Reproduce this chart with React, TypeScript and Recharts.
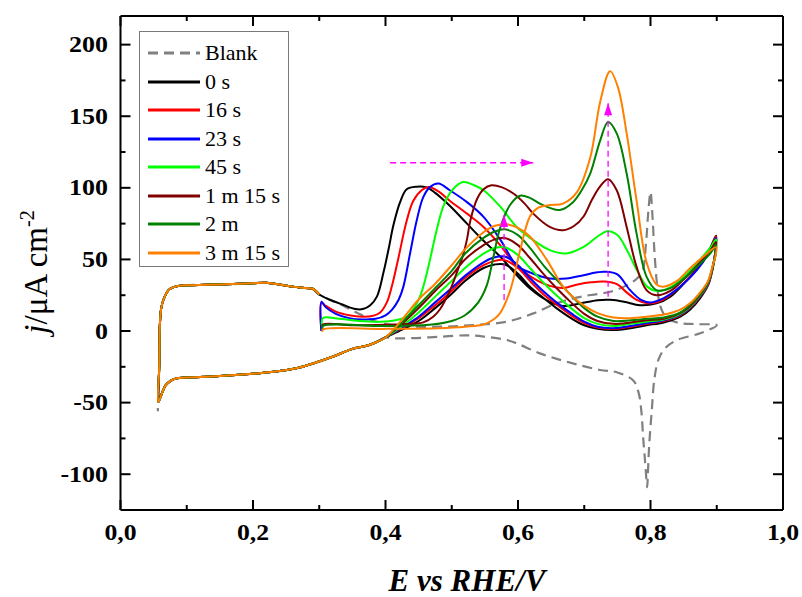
import React from "react";
import { LineChart, Line, XAxis, YAxis, Legend } from "recharts";

type Pt = [number, number];

// common parts of every sweep: hydrogen region going up, and the cathodic tail going down
const HEAD: Pt[] = [
  [0.0585, -25], [0.0595, 5], [0.0615, 16], [0.065, 22], [0.07, 27], [0.075, 29.5],
  [0.085, 31.3], [0.1, 32], [0.13, 32.3], [0.17, 32.8], [0.2, 33.4], [0.22, 33.7],
  [0.24, 32.5], [0.26, 31], [0.28, 30], [0.29, 29.5], [0.3, 25.5],
];
const TAIL: Pt[] = [
  [0.4, -4.5], [0.385, -8], [0.37, -10.5], [0.35, -12.5], [0.32, -18], [0.295, -22],
  [0.27, -25.5], [0.24, -28], [0.21, -29.5], [0.15, -31.5], [0.1, -32.5], [0.085, -33],
  [0.075, -35], [0.068, -38], [0.063, -43], [0.057, -49.5],
];

const BLANK_FWD: Pt[] = [
  [0.315, 22], [0.335, 18], [0.36, 12], [0.39, 6], [0.43, 3.5], [0.482, 3], [0.533, 4.2],
  [0.583, 6.5], [0.623, 12.3], [0.658, 19.3], [0.69, 23.5], [0.719, 25.8], [0.739, 27.4],
  [0.76, 31], [0.778, 36], [0.788, 42], [0.793, 60], [0.797, 85], [0.8, 97], [0.803, 80],
  [0.806, 55], [0.81, 32], [0.815, 17], [0.825, 9], [0.845, 5.5], [0.87, 4.8], [0.9, 4],
];
const BLANK_REV: Pt[] = [
  [0.875, -1.6], [0.84, -6.3], [0.822, -12], [0.812, -20], [0.806, -33], [0.802, -55],
  [0.798, -80], [0.796, -100], [0.795, -109], [0.792, -92], [0.789, -75], [0.786, -55],
  [0.782, -43], [0.774, -34.5], [0.749, -28.8], [0.724, -27.2], [0.673, -21.4],
  [0.633, -15.6], [0.6, -9], [0.583, -6.3], [0.55, -4], [0.523, -3], [0.482, -4],
  [0.44, -5], [0.41, -5],
];

const BLACK_FWD: Pt[] = [
  [0.315, 22], [0.335, 18.5], [0.355, 15.3], [0.367, 15.5], [0.377, 18], [0.387, 24],
  [0.397, 41], [0.405, 58], [0.412, 74], [0.422, 90], [0.432, 99], [0.447, 100.8],
  [0.462, 100.3], [0.475, 96.5], [0.497, 87.5], [0.523, 75], [0.548, 63], [0.573, 52],
  [0.6, 38], [0.62, 29], [0.643, 21.6], [0.668, 17.5], [0.694, 19.3], [0.72, 21.5],
  [0.739, 21.8], [0.76, 20.5], [0.784, 18], [0.809, 19.3], [0.83, 24], [0.85, 33],
  [0.875, 47], [0.89, 58], [0.899, 66.5],
];
const BLACK_REV: Pt[] = [
  [0.898, 56], [0.894, 44], [0.887, 32], [0.875, 23], [0.86, 15], [0.845, 10], [0.82, 6],
  [0.794, 4], [0.77, 2], [0.744, 0.7], [0.72, 1.5], [0.7, 4], [0.68, 9], [0.658, 16],
  [0.64, 22.5], [0.618, 31], [0.6, 40], [0.58, 46.5], [0.565, 46.5], [0.548, 44],
  [0.52, 35], [0.5, 26], [0.475, 16], [0.45, 7], [0.425, 1],
];

const RED_FWD: Pt[] = [
  [0.303, 2], [0.3034, 19.5], [0.31, 17.5], [0.325, 13.5], [0.345, 11], [0.365, 10],
  [0.38, 10.5], [0.392, 13], [0.402, 20], [0.41, 32], [0.419, 50], [0.432, 77], [0.442, 91],
  [0.455, 98.5], [0.465, 100.6], [0.48, 97.5], [0.497, 91], [0.523, 82], [0.548, 72.7],
  [0.573, 60], [0.593, 48], [0.61, 41], [0.63, 35], [0.648, 31.5], [0.668, 30],
  [0.69, 32.5], [0.71, 34], [0.731, 34.5], [0.75, 32.5], [0.764, 27], [0.78, 21.5],
  [0.795, 19.3], [0.81, 20], [0.825, 23.5], [0.845, 31], [0.87, 43], [0.89, 57], [0.899, 66],
];
const RED_REV: Pt[] = [
  [0.898, 56], [0.894, 44], [0.887, 32.5], [0.875, 24], [0.86, 16], [0.845, 11], [0.82, 7],
  [0.794, 5], [0.77, 3], [0.744, 1.5], [0.72, 2.5], [0.7, 5.5], [0.68, 11], [0.658, 18.5],
  [0.64, 25], [0.618, 35], [0.6, 44], [0.58, 49.5], [0.565, 49], [0.548, 46], [0.52, 37],
  [0.5, 28], [0.475, 18], [0.45, 9], [0.425, 2],
];

const BLUE_FWD: Pt[] = [
  [0.303, 0], [0.3034, 20.5], [0.31, 16.5], [0.325, 12], [0.345, 9], [0.365, 8],
  [0.385, 8.5], [0.4, 11], [0.41, 15], [0.42, 22], [0.427, 31], [0.437, 54], [0.447, 77],
  [0.457, 93.5], [0.467, 100.5], [0.48, 103], [0.497, 98.3], [0.523, 90], [0.548, 79.7],
  [0.573, 64], [0.598, 46], [0.623, 40], [0.648, 36.7], [0.673, 36.7], [0.699, 39],
  [0.72, 41], [0.731, 41.4], [0.75, 39.5], [0.769, 28.6], [0.785, 22], [0.8, 20],
  [0.82, 23], [0.845, 31], [0.87, 42.5], [0.89, 56], [0.899, 65],
];
const BLUE_REV: Pt[] = [
  [0.898, 56], [0.894, 45], [0.887, 33], [0.875, 24.5], [0.86, 16.5], [0.845, 11.5],
  [0.82, 7.5], [0.794, 5.5], [0.77, 3.5], [0.744, 2], [0.72, 3], [0.7, 6.5], [0.68, 12.5],
  [0.658, 20], [0.64, 27], [0.618, 37], [0.6, 46], [0.58, 52], [0.565, 51.5], [0.548, 48],
  [0.52, 38.5], [0.5, 30], [0.475, 20], [0.45, 10], [0.425, 2.5],
];

const GREEN_FWD: Pt[] = [
  [0.305, 1], [0.3054, 9], [0.33, 8.5], [0.36, 7], [0.392, 6.5], [0.415, 7.5], [0.432, 10],
  [0.443, 16], [0.452, 24], [0.46, 36], [0.467, 49.5], [0.477, 70], [0.487, 86.7],
  [0.5, 98], [0.517, 104], [0.533, 102], [0.548, 98.3], [0.573, 87], [0.598, 72.7],
  [0.623, 63.5], [0.648, 56.5], [0.673, 54.2], [0.699, 58.8], [0.72, 66], [0.735, 69.7],
  [0.75, 67], [0.765, 56], [0.78, 42], [0.795, 31], [0.81, 28], [0.83, 30.5], [0.85, 37.5],
  [0.875, 50], [0.89, 58], [0.899, 64],
];
const GREEN_REV: Pt[] = [
  [0.898, 55], [0.894, 45], [0.887, 33.5], [0.875, 25], [0.86, 17], [0.845, 12], [0.82, 8],
  [0.794, 6.5], [0.77, 5], [0.744, 3.5], [0.72, 5], [0.7, 9], [0.68, 16], [0.658, 25],
  [0.64, 33], [0.618, 44], [0.6, 53], [0.58, 58.5], [0.565, 58], [0.548, 54], [0.52, 44],
  [0.5, 35], [0.475, 24], [0.45, 13], [0.425, 3.5],
];

const DRED_FWD: Pt[] = [
  [0.305, 1], [0.3054, 4.5], [0.35, 4], [0.4, 4.3], [0.44, 5], [0.457, 6], [0.472, 10],
  [0.482, 15], [0.497, 28], [0.507, 40], [0.517, 53], [0.523, 64], [0.528, 77],
  [0.538, 92], [0.548, 99], [0.56, 101.8], [0.575, 100.5], [0.593, 96], [0.61, 89],
  [0.623, 82], [0.648, 72.7], [0.668, 70.4], [0.685, 73.5], [0.699, 80], [0.712, 92],
  [0.724, 101], [0.736, 106], [0.749, 98.3], [0.764, 72.7], [0.779, 44.8], [0.794, 28.6],
  [0.809, 25], [0.83, 28], [0.85, 36], [0.875, 48], [0.89, 56], [0.899, 62],
];
const DRED_REV: Pt[] = [
  [0.898, 54], [0.894, 45], [0.887, 34], [0.875, 25.5], [0.86, 17.5], [0.845, 12.5],
  [0.82, 8.5], [0.794, 7.5], [0.77, 6], [0.744, 5], [0.72, 7], [0.7, 12], [0.68, 20],
  [0.658, 30], [0.64, 39], [0.618, 51], [0.6, 60], [0.58, 65], [0.565, 64], [0.548, 60],
  [0.52, 50], [0.5, 39], [0.475, 28], [0.45, 16], [0.425, 5],
];

const DGREEN_FWD: Pt[] = [
  [0.305, 1], [0.3054, 3.5], [0.4, 3.5], [0.47, 4.5], [0.5, 7], [0.52, 11], [0.54, 20],
  [0.553, 32], [0.563, 52], [0.573, 72], [0.588, 88], [0.603, 94.5], [0.618, 93],
  [0.633, 89], [0.648, 86], [0.663, 84.5], [0.683, 90], [0.697, 99], [0.709, 110],
  [0.724, 133], [0.736, 146], [0.749, 138], [0.764, 110], [0.779, 68], [0.794, 38],
  [0.809, 28.6], [0.83, 30], [0.85, 36.5], [0.875, 47], [0.89, 54], [0.899, 60],
];
const DGREEN_REV: Pt[] = [
  [0.898, 53], [0.894, 45], [0.887, 34.5], [0.875, 26], [0.86, 18.5], [0.845, 13],
  [0.82, 9.5], [0.794, 8.5], [0.77, 7.5], [0.744, 7], [0.72, 10], [0.7, 16], [0.68, 25],
  [0.658, 36], [0.64, 45], [0.618, 58], [0.6, 67], [0.58, 71], [0.565, 69.5], [0.548, 65],
  [0.52, 54], [0.5, 42], [0.475, 30], [0.45, 18], [0.425, 6],
];

const ORANGE_FWD: Pt[] = [
  [0.305, -0.5], [0.3054, 1], [0.4, 1.5], [0.48, 2], [0.52, 3], [0.548, 4.5], [0.563, 8],
  [0.573, 12.5], [0.588, 28], [0.603, 56], [0.618, 80], [0.63, 86], [0.648, 88],
  [0.668, 89], [0.689, 97], [0.709, 121], [0.724, 160], [0.739, 181.5], [0.751, 170],
  [0.764, 138], [0.779, 91], [0.794, 48], [0.809, 32.5], [0.82, 31], [0.84, 35],
  [0.86, 44], [0.88, 52], [0.899, 58.5],
];
const ORANGE_REV: Pt[] = [
  [0.898, 52], [0.894, 46], [0.887, 35], [0.875, 27], [0.86, 19.5], [0.845, 15],
  [0.82, 11.5], [0.794, 10], [0.77, 9], [0.744, 9.5], [0.72, 12.5], [0.7, 17.5], [0.68, 25],
  [0.668, 31], [0.643, 50], [0.618, 66], [0.6, 72], [0.583, 74.5], [0.565, 73.5],
  [0.548, 69], [0.52, 57], [0.5, 46], [0.475, 33], [0.45, 22], [0.425, 8],
];

// magenta guide arrows
const ARROW_SHIFT: Pt[] = [[0.407, 117.5], [0.623, 117.5]];
const ARROW_UP_1: Pt[] = [[0.579, 21.6], [0.579, 81]];
const ARROW_UP_2: Pt[] = [[0.736, 24], [0.736, 159]];

const X_TICKS = [0, 0.1, 0.2, 0.3, 0.4, 0.5, 0.6, 0.7, 0.8, 0.9, 1.0];
const Y_TICKS = [-100, -75, -50, -25, 0, 25, 50, 75, 100, 125, 150, 175, 200];

const rows = (pts: Pt[]) => pts.map(([E, j]) => ({ E, j }));

const SERIES = [
  { name: "Blank", color: "#808080", dash: "10 6", data: rows([...HEAD, ...BLANK_FWD, ...BLANK_REV, ...TAIL, [0.0565, -56]]) },
  { name: "0 s", color: "#000000", data: rows([[0.057, -49.5], ...HEAD, ...BLACK_FWD, ...BLACK_REV, ...TAIL]) },
  { name: "16 s", color: "#ff0000", data: rows([...RED_FWD, ...RED_REV, ...TAIL, ...HEAD]) },
  { name: "23 s", color: "#0000ff", data: rows([...BLUE_FWD, ...BLUE_REV, ...TAIL, ...HEAD]) },
  { name: "45 s", color: "#00ff00", data: rows([...GREEN_FWD, ...GREEN_REV, ...TAIL, ...HEAD]) },
  { name: "1 m 15 s", color: "#800000", data: rows([...DRED_FWD, ...DRED_REV, ...TAIL, ...HEAD]) },
  { name: "2 m", color: "#008000", data: rows([...DGREEN_FWD, ...DGREEN_REV, ...TAIL, ...HEAD]) },
  { name: "3 m 15 s", color: "#ff8000", data: rows([...ORANGE_FWD, ...ORANGE_REV, ...TAIL, ...HEAD]) },
];

const FONT = '"Liberation Serif", "Times New Roman", serif';

// centripetal catmull-rom, works on closed CV loops where x is not monotonic
const smoothLoop = (context: any) => {
  let pts: number[][] = [];
  return {
    areaStart() {},
    areaEnd() {},
    lineStart() {
      pts = [];
    },
    point(x: number, y: number) {
      pts.push([+x, +y]);
    },
    lineEnd() {
      if (!pts.length) return;
      context.moveTo(pts[0][0], pts[0][1]);
      for (let i = 0; i < pts.length - 1; i++) {
        const p0 = pts[Math.max(i - 1, 0)];
        const p1 = pts[i];
        const p2 = pts[i + 1];
        const p3 = pts[Math.min(i + 2, pts.length - 1)];
        const d01 = Math.hypot(p1[0] - p0[0], p1[1] - p0[1]);
        const d12 = Math.hypot(p2[0] - p1[0], p2[1] - p1[1]);
        const d23 = Math.hypot(p3[0] - p2[0], p3[1] - p2[1]);
        const a01 = Math.sqrt(d01);
        const a12 = Math.sqrt(d12);
        const a23 = Math.sqrt(d23);
        let c1 = p1;
        let c2 = p2;
        if (a01 > 1e-6) {
          const a = 2 * d01 + 3 * a01 * a12 + d12;
          const n = 3 * a01 * (a01 + a12);
          c1 = [(p1[0] * a - p0[0] * d12 + p2[0] * d01) / n, (p1[1] * a - p0[1] * d12 + p2[1] * d01) / n];
        }
        if (a23 > 1e-6) {
          const b = 2 * d23 + 3 * a23 * a12 + d12;
          const m = 3 * a23 * (a23 + a12);
          c2 = [(p2[0] * b + p1[0] * d23 - p3[0] * d12) / m, (p2[1] * b + p1[1] * d23 - p3[1] * d12) / m];
        }
        context.bezierCurveTo(c1[0], c1[1], c2[0], c2[1], p2[0], p2[1]);
      }
    },
  };
};

const isMajorX = (v: number) => Math.round(v * 10) % 2 === 0;
const isMajorY = (v: number) => Math.round(v) % 50 === 0;

const BottomTick = ({ x, y, payload }: any) => {
  const major = isMajorX(payload.value);
  return (
    <g>
      <line x1={x} x2={x} y1={y} y2={y - (major ? 10 : 5)} stroke="#000" strokeWidth={2} />
      {major && (
        <text
          transform={`translate(${x},${y + 30}) scale(1.12,1)`}
          textAnchor="middle"
          fontFamily={FONT}
          fontWeight="bold"
          fontSize={23}
          fill="#000"
        >
          {payload.value.toFixed(1).replace(".", ",")}
        </text>
      )}
    </g>
  );
};

const TopTick = ({ x, y, payload }: any) => {
  const major = isMajorX(payload.value);
  return <line x1={x} x2={x} y1={y} y2={y + (major ? 10 : 5)} stroke="#000" strokeWidth={2} />;
};

const LeftTick = ({ x, y, payload }: any) => {
  const major = isMajorY(payload.value);
  return (
    <g>
      <line x1={x} x2={x + (major ? 10 : 5)} y1={y} y2={y} stroke="#000" strokeWidth={2} />
      {major && (
        <text
          transform={`translate(${x - 12.5},${y + 7.5}) scale(1.13,1)`}
          textAnchor="end"
          fontFamily={FONT}
          fontWeight="bold"
          fontSize={23}
          fill="#000"
        >
          {payload.value}
        </text>
      )}
    </g>
  );
};

const RightTick = ({ x, y, payload }: any) => {
  const major = isMajorY(payload.value);
  return <line x1={x} x2={x - (major ? 10 : 5)} y1={y} y2={y} stroke="#000" strokeWidth={2} />;
};

const XTitle = () => (
  <text x={467} y={591} textAnchor="middle" fontFamily={FONT} fontWeight="bold" fontStyle="italic" fontSize={31} fill="#000">
    E vs RHE/V
  </text>
);

const YTitle = () => (
  <text transform="translate(47,272) rotate(-90)" textAnchor="middle" fontFamily={FONT} fontSize={33} fill="#000">
    <tspan fontStyle="italic">j</tspan>
    <tspan>/μA cm</tspan>
    <tspan dy={-13} fontSize={20}>-2</tspan>
  </text>
);

const arrowHead = (dir: "right" | "up") => (props: any) => {
  const { cx, cy, index } = props;
  if (index !== 1) return <g key={`n${index}`} />;
  const d =
    dir === "right"
      ? `M${cx},${cy} L${cx - 12},${cy - 4} L${cx - 12},${cy + 4} Z`
      : `M${cx},${cy} L${cx - 4},${cy + 12} L${cx + 4},${cy + 12} Z`;
  return <path key={`h${index}`} d={d} fill="#ff00ff" />;
};

const LegendBox = () => (
  <div
    style={{
      boxSizing: "border-box",
      width: 150,
      height: 236,
      border: "1px solid #7a7a7a",
      background: "#fff",
      paddingTop: 7,
      paddingLeft: 8,
      fontFamily: FONT,
      fontSize: 22,
      color: "#000",
    }}
  >
    {SERIES.map((s) => (
      <div key={s.name} style={{ display: "flex", alignItems: "center", height: 28.5 }}>
        <svg width={52} height={10}>
          <line x1={0} x2={52} y1={5} y2={5} stroke={s.color} strokeWidth={3} strokeDasharray={s.dash} />
        </svg>
        <span style={{ marginLeft: 5, lineHeight: 1 }}>{s.name}</span>
      </div>
    ))}
  </div>
);

const axisLine = { stroke: "#000", strokeWidth: 2 };

export default function App() {
  return (
    <div style={{ position: "absolute", left: 0, top: 0, width: 802, height: 597, background: "#fff" }}>
      <LineChart width={802} height={597} margin={{ top: 15, right: 18, bottom: 86, left: 119.5 }}>
        <XAxis
          dataKey="E"
          type="number"
          domain={[0, 1]}
          ticks={X_TICKS}
          interval={0}
          allowDataOverflow
          height={1}
          tickSize={0}
          tickMargin={0}
          tickLine={false}
          tick={BottomTick}
          axisLine={axisLine}
          label={<XTitle />}
        />
        <XAxis
          xAxisId="top"
          orientation="top"
          dataKey="E"
          type="number"
          domain={[0, 1]}
          ticks={X_TICKS}
          interval={0}
          allowDataOverflow
          height={1}
          tickSize={0}
          tickMargin={0}
          tickLine={false}
          tick={TopTick}
          axisLine={axisLine}
        />
        <YAxis
          type="number"
          domain={[-125, 220]}
          ticks={Y_TICKS}
          interval={0}
          allowDataOverflow
          width={1}
          tickSize={0}
          tickMargin={0}
          tickLine={false}
          tick={LeftTick}
          axisLine={axisLine}
          label={<YTitle />}
        />
        <YAxis
          yAxisId="right"
          orientation="right"
          type="number"
          domain={[-125, 220]}
          ticks={Y_TICKS}
          interval={0}
          allowDataOverflow
          width={1}
          tickSize={0}
          tickMargin={0}
          tickLine={false}
          tick={RightTick}
          axisLine={axisLine}
        />
        <Legend
          layout="vertical"
          align="center"
          verticalAlign="middle"
          content={() => <LegendBox />}
          wrapperStyle={{ left: 139, top: 31, width: 150, height: 236 }}
        />
        {SERIES.map((s) => (
          <Line
            key={s.name}
            data={s.data}
            dataKey="j"
            name={s.name}
            type={smoothLoop as any}
            stroke={s.color}
            strokeWidth={s.dash ? 2.2 : 2}
            strokeDasharray={s.dash}
            dot={false}
            activeDot={false}
            isAnimationActive={false}
          />
        ))}
        <Line data={rows(ARROW_SHIFT)} dataKey="j" type="linear" stroke="#ff00ff" strokeWidth={1.3} strokeDasharray="6 4" dot={arrowHead("right")} activeDot={false} isAnimationActive={false} legendType="none" />
        <Line data={rows(ARROW_UP_1)} dataKey="j" type="linear" stroke="#ff00ff" strokeWidth={1.3} strokeDasharray="6 4" dot={arrowHead("up")} activeDot={false} isAnimationActive={false} legendType="none" />
        <Line data={rows(ARROW_UP_2)} dataKey="j" type="linear" stroke="#ff00ff" strokeWidth={1.3} strokeDasharray="6 4" dot={arrowHead("up")} activeDot={false} isAnimationActive={false} legendType="none" />
      </LineChart>
    </div>
  );
}
